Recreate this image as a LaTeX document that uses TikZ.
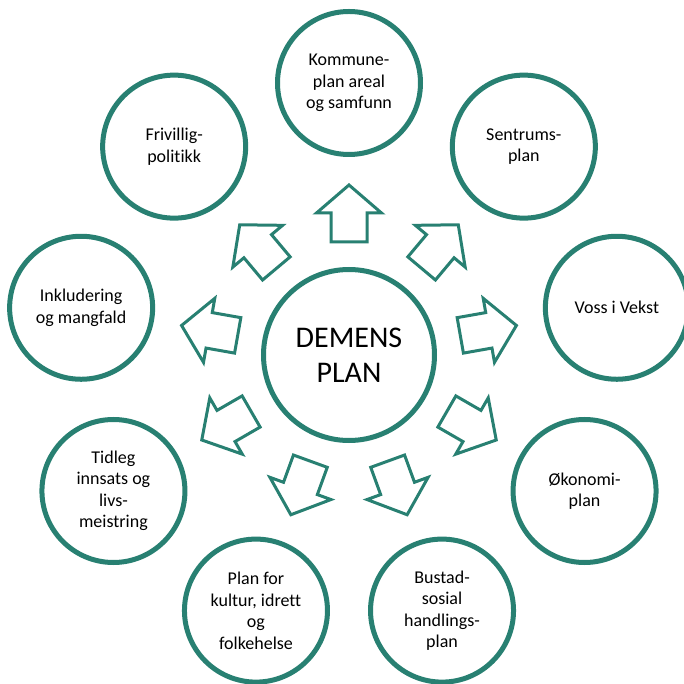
\documentclass[tikz,border=0pt]{standalone}
\usepackage{fontspec}
\setmainfont[Ligatures={NoCommon}]{Carlito}
\definecolor{demensgreen}{RGB}{40,128,114}
\tikzset{
  planring/.style={circle, draw=demensgreen, line width=5pt, fill=white,
    minimum size=143pt, inner sep=0pt, align=center,
    font=\fontsize{18}{21.5}\selectfont},
  mainring/.style={circle, draw=demensgreen, line width=5pt, fill=white,
    minimum size=171pt, inner sep=0pt, align=center,
    font=\fontsize{30}{35}\selectfont},
  blockarrow/.style={draw=demensgreen, line width=3pt, fill=white, line join=miter}
}
\begin{document}
\begin{tikzpicture}[x=1pt,y=1pt]
  \useasboundingbox (-349,-329) rectangle (335,355);
  \node[mainring] (demens) at (0,0) {DEMENS\\PLAN};
  \foreach \a/\name/\txt in {90/kommune/{Kommune-\\plan areal\\og samfunn},
      50/sentrum/{Sentrums-\\plan}, 10/voss/{Voss i Vekst},
      -30/okonomi/{Økonomi-\\plan}, -70/bustad/{Bustad-\\sosial\\handlings-\\plan},
      -110/kultur/{Plan for\\kultur, idrett\\og\\folkehelse},
      -150/tidleg/{Tidleg\\innsats og\\livs-\\meistring},
      170/inkludering/{Inkludering\\og mangfald}, 130/frivillig/{Frivillig-\\politikk}}
    \node[planring] (\name) at (\a:272) {\txt};
  % block arrows out from the centre
  \foreach \a in {90,50,...,-230}
    \draw[blockarrow,rotate=\a] (113,-18) -- (142,-18) -- (142,-32.5) -- (170,0)
      -- (142,32.5) -- (142,18) -- (113,18) -- cycle;
\end{tikzpicture}
\end{document}
